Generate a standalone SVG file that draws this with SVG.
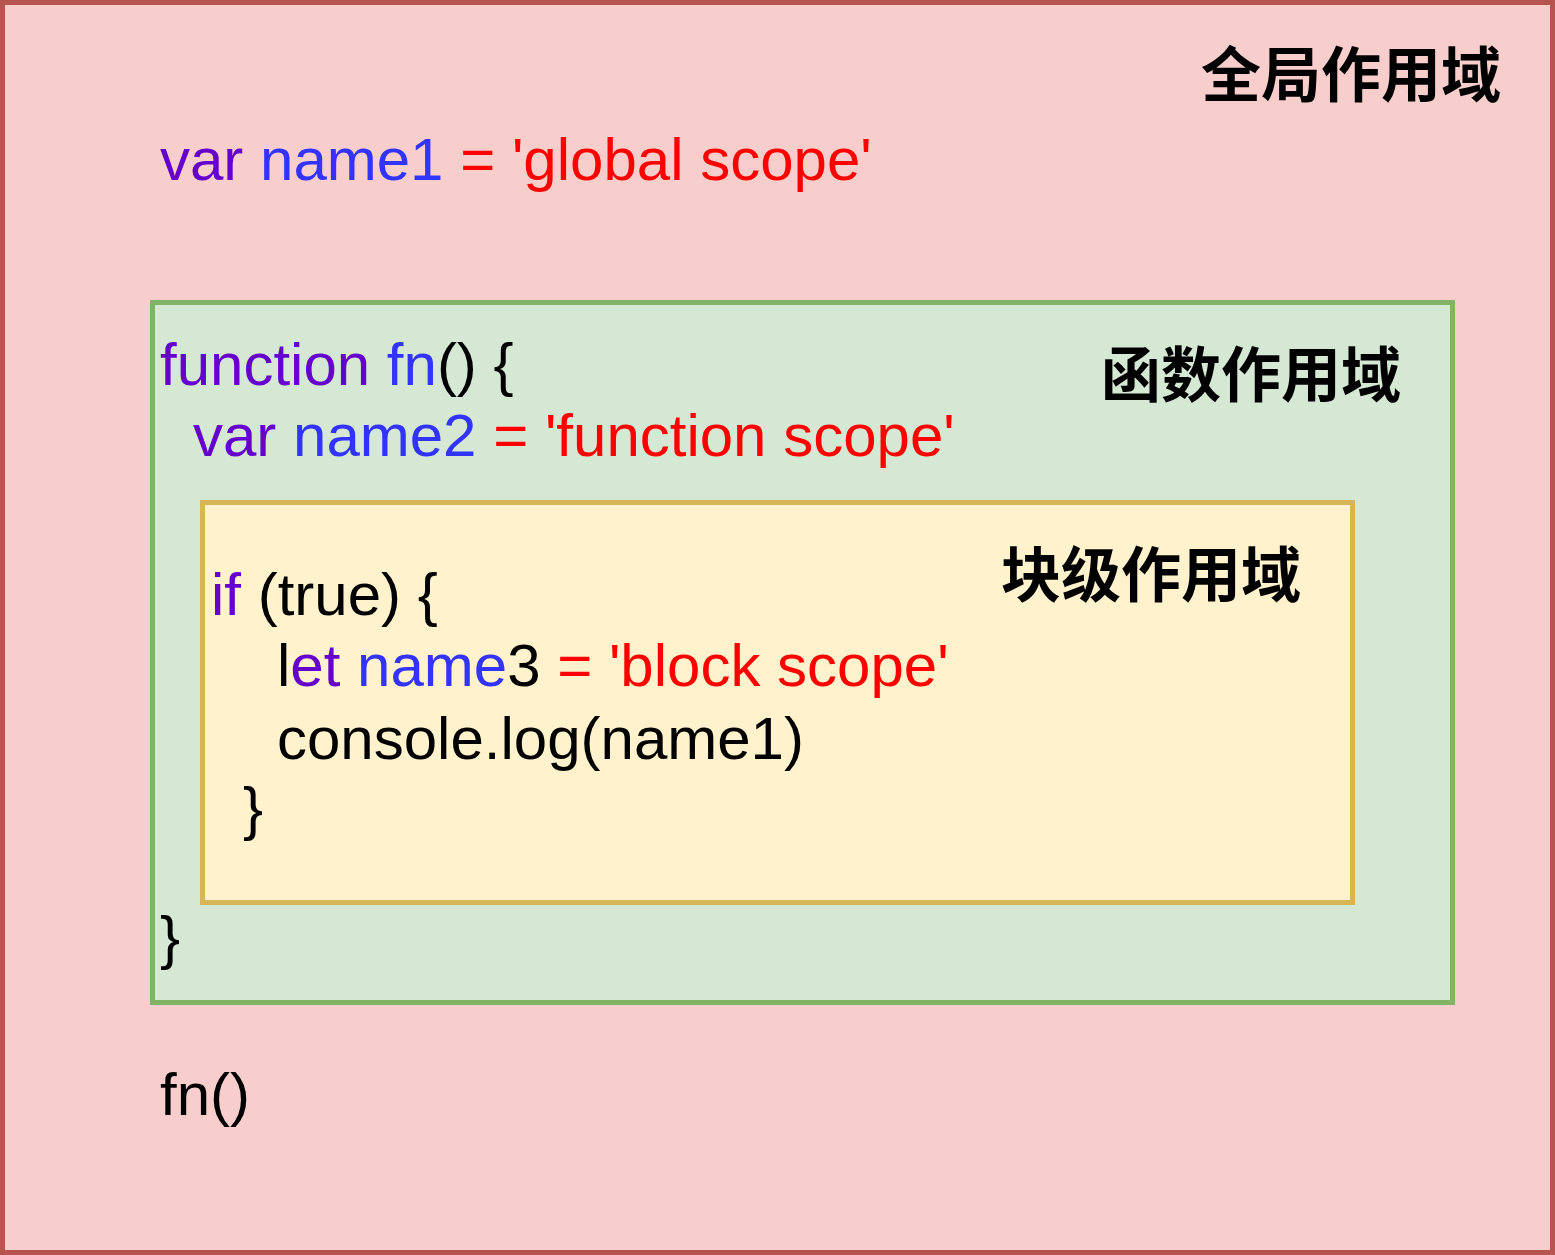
<svg xmlns="http://www.w3.org/2000/svg" width="1555" height="1255" viewBox="0 0 1555 1255">
<style>
.code{font-family:"Liberation Sans",Arial,sans-serif;font-size:60px;fill:#000000;white-space:pre}
.kw{fill:#6600CC}
.id{fill:#3333FF}
.str{fill:#FF0000}
.lbl{font-family:"Noto Sans CJK SC","Noto Sans",sans-serif;font-size:60px;font-weight:bold;fill:#000000;text-anchor:end;dominant-baseline:central}
</style>
<g id="global-scope">
<rect x="2.5" y="2.5" width="1550" height="1250" fill="#f8cecc" stroke="#b85450" stroke-width="5"/>
<text class="lbl" x="1501" y="70">全局作用域</text>
<text class="code" x="160" y="180" xml:space="preserve"><tspan class="kw">var</tspan> <tspan class="id">name1</tspan> <tspan class="str">= 'global scope'</tspan></text>
<text class="code" x="160" y="1115">fn()</text>
</g>
<g id="function-scope">
<rect x="152.5" y="302.5" width="1300" height="700" fill="#d5e8d4" stroke="#82b366" stroke-width="5"/>
<text class="lbl" x="1401" y="370">函数作用域</text>
<text class="code" x="160" y="385" xml:space="preserve"><tspan class="kw">function</tspan> <tspan class="id">fn</tspan>() {</text>
<text class="code" x="193" y="456" xml:space="preserve"><tspan class="kw">var</tspan> <tspan class="id">name2</tspan> <tspan class="str">= 'function scope'</tspan></text>
<text class="code" x="160" y="958">}</text>
</g>
<g id="block-scope">
<rect x="202.5" y="502.5" width="1150" height="400" fill="#fff2cc" stroke="#d6b656" stroke-width="5"/>
<text class="lbl" x="1301" y="570">块级作用域</text>
<text class="code" x="211" y="615" xml:space="preserve"><tspan class="kw">if</tspan> (true) {</text>
<text class="code" x="277" y="686" xml:space="preserve">l<tspan class="kw">et</tspan> <tspan class="id">name</tspan>3 <tspan class="str">= 'block scope'</tspan></text>
<text class="code" x="277" y="759">console.log(name1)</text>
<text class="code" x="243" y="829">}</text>
</g>
<g id="connectors"></g>
</svg>
